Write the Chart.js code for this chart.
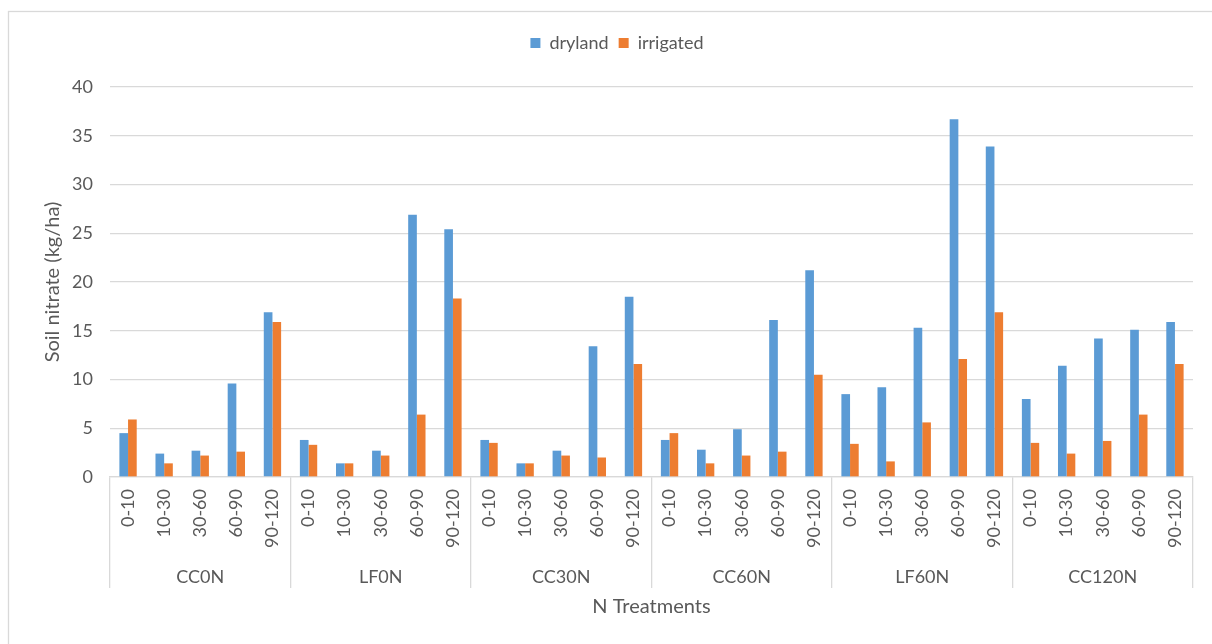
<!DOCTYPE html>
<html>
<head>
<meta charset="utf-8">
<script src="https://cdn.jsdelivr.net/npm/chart.js@4/dist/chart.umd.min.js"></script>
<style>
  html, body { margin: 0; padding: 0; background: #ffffff; }
  #wrap { width: 1212px; height: 644px; position: relative; }
</style>
</head>
<body>
<div id="wrap"><canvas id="chart" width="1212" height="644"></canvas></div>
<script>
// Soil depth intervals (cm) within each N treatment
const depths = ['0-10', '10-30', '30-60', '60-90', '90-120'];
// N treatment groups
const treatments = ['CC0N', 'LF0N', 'CC30N', 'CC60N', 'LF60N', 'CC120N'];

// Soil nitrate (kg/ha), ordered treatment by treatment, depth by depth
const dryland = [
  4.5, 2.4, 2.7, 9.6, 16.9,
  3.8, 1.4, 2.7, 26.9, 25.4,
  3.8, 1.4, 2.7, 13.4, 18.5,
  3.8, 2.8, 4.9, 16.1, 21.2,
  8.5, 9.2, 15.3, 36.7, 33.9,
  8.0, 11.4, 14.2, 15.1, 15.9
];
const irrigated = [
  5.9, 1.4, 2.2, 2.6, 15.9,
  3.3, 1.4, 2.2, 6.4, 18.3,
  3.5, 1.4, 2.2, 2.0, 11.6,
  4.5, 1.4, 2.2, 2.6, 10.5,
  3.4, 1.6, 5.6, 12.1, 16.9,
  3.5, 2.4, 3.7, 6.4, 11.6
];

// y-axis ticks
const yTicks = [0, 5, 10, 15, 20, 25, 30, 35, 40];

const labels = [];
treatments.forEach(t => depths.forEach(d => labels.push(d)));

const textColor = '#595959';
const lineColor = '#D9D9D9';
const fontFamily = 'Lato, "Open Sans", sans-serif';
const tickSize = 18;
const titleSize = 20;

// light frame around the whole chart
const framePlugin = {
  id: 'frame',
  beforeDraw(chart) {
    const c = chart.ctx;
    c.save();
    c.fillStyle = '#ffffff';
    c.fillRect(0, 0, chart.width, chart.height);
    c.strokeStyle = lineColor;
    c.lineWidth = 1.3;
    c.strokeRect(8.5, 11.5, chart.width + 20, chart.height + 20);
    c.restore();
  }
};

// extra space between the legend and the plot area
const legendGapPlugin = {
  id: 'legendGap',
  beforeLayout(chart) {
    const lg = chart.legend;
    if (lg && !lg._gapAdded) {
      const fit = lg.fit;
      lg.fit = function () {
        fit.apply(this, arguments);
        this.height += 25;
      };
      lg._gapAdded = true;
    }
  }
};

new Chart(document.getElementById('chart'), {
  type: 'bar',
  data: {
    labels: labels,
    datasets: [
      { label: 'dryland', data: dryland, backgroundColor: '#5B9BD5', borderWidth: 0,
        barPercentage: 1, categoryPercentage: 0.48 },
      { label: 'irrigated', data: irrigated, backgroundColor: '#ED7D31', borderWidth: 0,
        barPercentage: 1, categoryPercentage: 0.48 }
    ]
  },
  options: {
    responsive: false,
    animation: false,
    layout: { padding: { left: 41, right: 19, top: 24, bottom: 19 } },
    plugins: {
      legend: {
        position: 'top',
        align: 'center',
        labels: {
          boxWidth: 10, boxHeight: 10, padding: 10,
          color: textColor,
          font: { family: fontFamily, size: tickSize }
        }
      },
      tooltip: { enabled: false }
    },
    scales: {
      y: {
        min: 0, max: 40,
        afterBuildTicks(scale) { scale.ticks = yTicks.map(v => ({ value: v })); },
        afterFit(scale) { scale.width = 69; },
        grid: { color: lineColor, lineWidth: 1.3, drawTicks: false },
        border: { display: false },
        ticks: { color: textColor, padding: 17, font: { family: fontFamily, size: tickSize } },
        title: {
          display: true, text: 'Soil nitrate (kg/ha)', color: textColor,
          padding: { top: 0, bottom: 0 },
          font: { family: fontFamily, size: titleSize }
        }
      },
      x: {
        position: 'bottom',
        afterFit(scale) { scale.height = 85; },
        grid: {
          display: true,
          drawOnChartArea: false,
          drawTicks: true,
          tickLength: 111,
          lineWidth: 1.3,
          // separators only at treatment boundaries
          color(ctx) {
            if (ctx.type !== 'tick') return lineColor;
            return ctx.index % depths.length === 0 ? lineColor : 'rgba(0,0,0,0)';
          }
        },
        border: { display: true, color: lineColor, width: 1.3 },
        ticks: {
          autoSkip: false, minRotation: 90, maxRotation: 90,
          padding: -99,
          color: textColor,
          font: { family: fontFamily, size: tickSize }
        }
      },
      x2: {
        type: 'category',
        labels: treatments,
        position: 'bottom',
        offset: true,
        afterFit(scale) { scale.height = 63; },
        grid: { display: false, drawTicks: false },
        border: { display: false },
        ticks: {
          autoSkip: false, maxRotation: 0, padding: 4,
          color: textColor,
          font: { family: fontFamily, size: tickSize }
        },
        title: {
          display: true, text: 'N Treatments', color: textColor,
          padding: { top: 0, bottom: 6 },
          font: { family: fontFamily, size: titleSize }
        }
      }
    }
  },
  plugins: [framePlugin, legendGapPlugin]
});
</script>
</body>
</html>
